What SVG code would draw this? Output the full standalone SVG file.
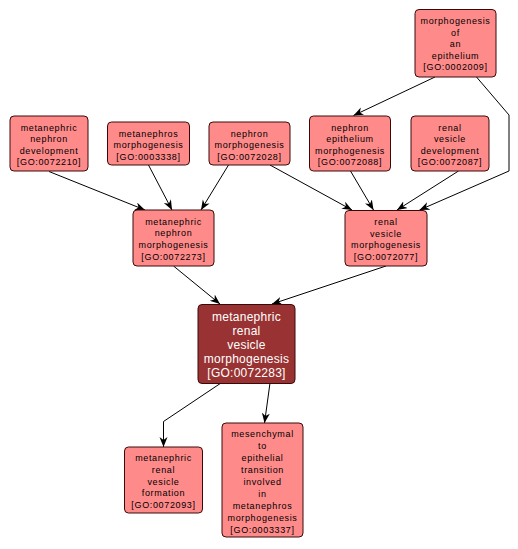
<svg xmlns="http://www.w3.org/2000/svg" width="518" height="549" viewBox="0 0 518 549">
<style>
.n rect{fill:#ff8a8a;stroke:#3a0a0a;stroke-width:1}
.n text{font-family:"Liberation Sans",Arial,sans-serif;font-size:9px;letter-spacing:0.65px;text-anchor:middle;fill:#000}
.m rect{fill:#993333;stroke:#3a0a0a;stroke-width:1}
.m text{font-family:"Liberation Sans",Arial,sans-serif;font-size:12px;letter-spacing:0.25px;text-anchor:middle;fill:#fff}
.e path{fill:none;stroke:#000;stroke-width:1;marker-end:url(#a)}
</style>
<defs>
<marker id="a" markerUnits="userSpaceOnUse" markerWidth="12" markerHeight="10" refX="10" refY="4" orient="auto" viewBox="0 0 12 10">
<path d="M0,0 L10,4 L0,8 L3,4 z" fill="#000"/>
</marker>
</defs>
<rect width="518" height="549" fill="#fff"/>
<g class="e" id="edges">
<path d="M49,171.5 L145,210"/>
<path d="M148.5,165 L172,210"/>
<path d="M228.5,165 L201,210"/>
<path d="M270,165 L352,210"/>
<path d="M435,77 L353.5,115.5"/>
<path d="M476.5,77 L509,115 L509,171 L419.5,210"/>
<path d="M350.5,171 L373.5,210"/>
<path d="M458.5,171 L397,210"/>
<path d="M173.5,266 L220,304"/>
<path d="M386,266 L272,304"/>
<path d="M221,383 L163.5,421.5 L163.5,447"/>
<path d="M270,383 L264.5,423"/>
</g>
<g class="n" id="GO0072210">
<rect x="10" y="116" width="78" height="55" rx="4"/>
<text x="49" y="130.5">metanephric</text>
<text x="49" y="142">nephron</text>
<text x="49" y="153.5">development</text>
<text x="49" y="165">[GO:0072210]</text>
</g>
<g class="n" id="GO0003338">
<rect x="107.5" y="122" width="82" height="43" rx="4"/>
<text x="148.5" y="136.5">metanephros</text>
<text x="148.5" y="148">morphogenesis</text>
<text x="148.5" y="159.5">[GO:0003338]</text>
</g>
<g class="n" id="GO0072028">
<rect x="209" y="122" width="81" height="43" rx="4"/>
<text x="249.5" y="136.5">nephron</text>
<text x="249.5" y="148">morphogenesis</text>
<text x="249.5" y="159.5">[GO:0072028]</text>
</g>
<g class="n" id="GO0072273">
<rect x="133" y="210" width="81" height="56" rx="4"/>
<text x="173.5" y="224.5">metanephric</text>
<text x="173.5" y="236">nephron</text>
<text x="173.5" y="248">morphogenesis</text>
<text x="173.5" y="259.5">[GO:0072273]</text>
</g>
<g class="n" id="GO0002009">
<rect x="415" y="9.5" width="81" height="67.5" rx="4"/>
<text x="455.5" y="24">morphogenesis</text>
<text x="455.5" y="35.5">of</text>
<text x="455.5" y="47">an</text>
<text x="455.5" y="58.5">epithelium</text>
<text x="455.5" y="70">[GO:0002009]</text>
</g>
<g class="n" id="GO0072088">
<rect x="309.5" y="116" width="81" height="55" rx="4"/>
<text x="350" y="130.5">nephron</text>
<text x="350" y="142">epithelium</text>
<text x="350" y="153.5">morphogenesis</text>
<text x="350" y="165">[GO:0072088]</text>
</g>
<g class="n" id="GO0072087">
<rect x="411" y="116" width="78" height="55" rx="4"/>
<text x="450" y="130.5">renal</text>
<text x="450" y="142">vesicle</text>
<text x="450" y="153.5">development</text>
<text x="450" y="165">[GO:0072087]</text>
</g>
<g class="n" id="GO0072077">
<rect x="345" y="210.5" width="82" height="55.5" rx="4"/>
<text x="386" y="225">renal</text>
<text x="386" y="236.5">vesicle</text>
<text x="386" y="248">morphogenesis</text>
<text x="386" y="259.5">[GO:0072077]</text>
</g>
<g class="m" id="GO0072283">
<rect x="198" y="304.5" width="97" height="79" rx="4"/>
<text x="246.5" y="320.5">metanephric</text>
<text x="246.5" y="335">renal</text>
<text x="246.5" y="348.5">vesicle</text>
<text x="246.5" y="363">morphogenesis</text>
<text x="246.5" y="376.5">[GO:0072283]</text>
</g>
<g class="n" id="GO0072093">
<rect x="124.5" y="447" width="78" height="66" rx="4"/>
<text x="163.5" y="461">metanephric</text>
<text x="163.5" y="473">renal</text>
<text x="163.5" y="484.5">vesicle</text>
<text x="163.5" y="496">formation</text>
<text x="163.5" y="507.5">[GO:0072093]</text>
</g>
<g class="n" id="GO0003337">
<rect x="222" y="423" width="81" height="114" rx="4"/>
<text x="262.5" y="437">mesenchymal</text>
<text x="262.5" y="449">to</text>
<text x="262.5" y="461">epithelial</text>
<text x="262.5" y="473">transition</text>
<text x="262.5" y="485">involved</text>
<text x="262.5" y="497">in</text>
<text x="262.5" y="509">metanephros</text>
<text x="262.5" y="521">morphogenesis</text>
<text x="262.5" y="533">[GO:0003337]</text>
</g>
</svg>
